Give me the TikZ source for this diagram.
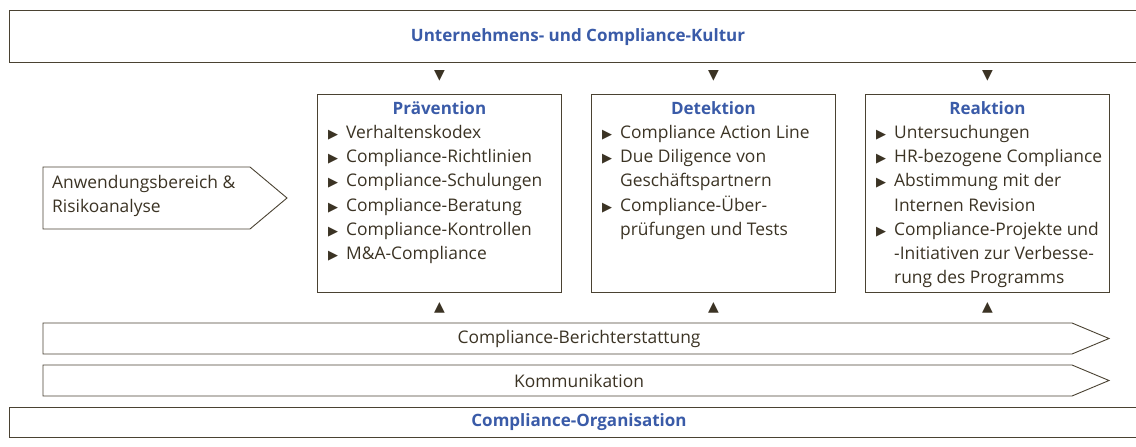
\documentclass[tikz,border=0pt]{standalone}
\usepackage{fontspec}
\setmainfont{Open Sans}
\newfontfamily\symfont{DejaVu Sans}
\usetikzlibrary{positioning}

\definecolor{ink}{HTML}{3B3324}
\definecolor{frame}{HTML}{4A4232}
\definecolor{titel}{HTML}{3A5BA8}

\newcommand{\bul}{\makebox[18pt][l]{{\symfont\fontsize{13}{12}\selectfont ▶}}}
\newcommand{\ein}{\hspace*{18pt}}

\tikzset{
  rahmen/.style={draw=frame, line width=0.9pt},
  saeule/.style={rahmen, minimum width=244pt, minimum height=198pt, anchor=north west, inner sep=0pt},
  kopf/.style={text=titel, font=\bfseries\fontsize{17}{20}\selectfont, inner sep=0pt},
  liste/.style={text=ink, align=left, anchor=north west, inner sep=0pt, font=\fontsize{17.4}{24.2}\selectfont},
  band/.style={text=ink, font=\fontsize{17.4}{20}\selectfont, inner sep=0pt},
  pfeil/.style={text=ink, font=\symfont\fontsize{14}{14}\selectfont, inner sep=0pt},
}

\begin{document}
\begin{tikzpicture}[x=1pt,y=-1pt]
\useasboundingbox (0,0) rectangle (1136,447);

% Kultur oben
\draw[rahmen] (9,10) rectangle (1145,62);
\node[kopf] (kultur) at (578,37) {Unternehmens- und Compliance-Kultur};

% drei Saeulen
\node[saeule] (praev) at (317,94) {};
\node[saeule] (detek) at (591,94) {};
\node[saeule] (reakt) at (865,94) {};

\node[kopf] (praevkopf) at (praev.north |- 0,108) {Prävention};
\node[kopf] (detekkopf) at (detek.north |- 0,108) {Detektion};
\node[kopf] (reaktkopf) at (reakt.north |- 0,108) {Reaktion};

\node[liste] (praevliste) at (328,125) {%
  \bul Verhaltenskodex\\
  \bul Compliance-Richtlinien\\
  \bul Compliance-Schulungen\\
  \bul Compliance-Beratung\\
  \bul Compliance-Kontrollen\\
  \bul M\&A-Compliance};
\node[liste] (detekliste) at (602,125) {%
  \bul Compliance Action Line\\
  \bul Due Diligence von\\
  \ein Geschäftspartnern\\
  \bul Compliance-Über-\\
  \ein prüfungen und Tests};
\node[liste] (reaktliste) at (876,125) {%
  \bul Untersuchungen\\
  \bul HR-bezogene Compliance\\
  \bul Abstimmung mit der\\
  \ein Internen Revision\\
  \bul Compliance-Projekte und\\
  \ein -Initiativen zur Verbesse-\\
  \ein rung des Programms};

% Pfeilspitzen
\node[pfeil] (praevoben) at (praev.north |- 0,76) {▼};
\node[pfeil] (detekoben) at (detek.north |- 0,76) {▼};
\node[pfeil] (reaktoben) at (reakt.north |- 0,76) {▼};
\node[pfeil] (praevunten) at (praev.south |- 0,308) {▲};
\node[pfeil] (detekunten) at (detek.south |- 0,308) {▲};
\node[pfeil] (reaktunten) at (reakt.south |- 0,308) {▲};

% Anwendungsbereich
\draw[rahmen] (43,167) -- (250,167) -- (287,198) -- (250,229) -- (43,229) -- cycle;
\node[liste] (anwend) at (52,175) {Anwendungsbereich \&\\Risikoanalyse};

% Baender unten
\draw[rahmen] (43,323) -- (1072,323) -- (1109,338.5) -- (1072,354) -- (43,354) -- cycle;
\node[band] (bericht) at (579,339) {Compliance-Berichterstattung};
\draw[rahmen] (43,365) -- (1072,365) -- (1109,380.5) -- (1072,396) -- (43,396) -- cycle;
\node[band] (kommu) at (579,381) {Kommunikation};
\draw[rahmen] (9,407) rectangle (1145,437);
\node[kopf] (orga) at (579,422) {Compliance-Organisation};
\end{tikzpicture}
\end{document}
